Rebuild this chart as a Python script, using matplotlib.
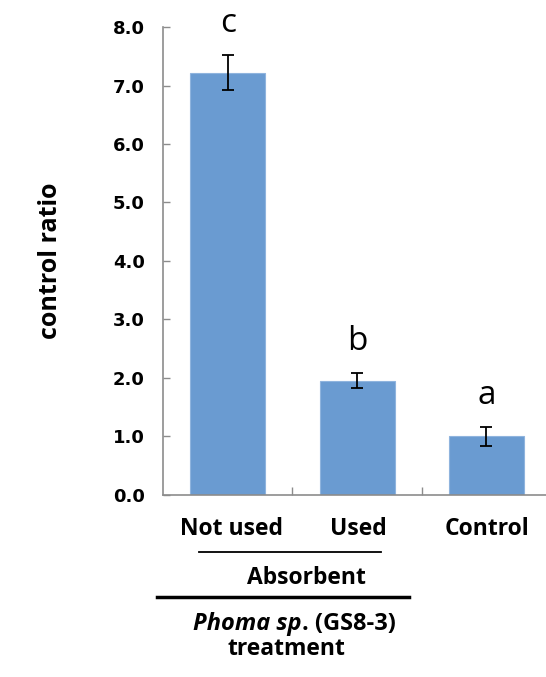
import numpy as np
import matplotlib.pyplot as plt

categories = ['Not used', 'Used', 'Control']
values = [7.22, 1.95, 1.0]
errors = [0.30, 0.13, 0.16]
letters = ['c', 'b', 'a']
yticks = [0.0, 1.0, 2.0, 3.0, 4.0, 5.0, 6.0, 7.0, 8.0]

bar_color = '#6a9bd1'
axis_color = '#8c8c8c'

fig = plt.figure(figsize=(5.46, 6.77), dpi=100)
ax = fig.add_axes([0.2985, 0.2689, 0.711, 0.6912])

x = np.arange(len(categories))
ax.bar(x, values, width=0.58, color=bar_color, edgecolor='#8fb4de', linewidth=0.8, zorder=2)
ax.errorbar(x, values, yerr=errors, fmt='none', ecolor='black', elinewidth=1.3,
            capsize=4.5, capthick=1.3, zorder=3)

for xi, v, e, l in zip(x, values, errors, letters):
    ax.text(xi, v + e + 0.4, l, ha='center', va='baseline', fontsize=24,
            family='Open Sans', clip_on=False)

ax.set_xlim(-0.5, 2.5)
ax.set_ylim(0, 8.0)
ax.set_yticks(yticks)
ax.set_yticklabels(['%.1f' % t for t in yticks], fontsize=13, fontweight='bold',
                   family='DejaVu Sans')
ax.set_xticks([0.5, 1.5])
ax.set_xticklabels([])
ax.tick_params(axis='y', direction='in', length=5, width=1, color=axis_color, pad=13)
ax.tick_params(axis='x', direction='in', length=6, width=1, color=axis_color)

for s in ['top', 'right']:
    ax.spines[s].set_visible(False)
for s in ['left', 'bottom']:
    ax.spines[s].set_color(axis_color)
    ax.spines[s].set_linewidth(1.2)

ax.set_ylabel('control ratio', fontsize=18, fontweight='bold', family='Open Sans',
              labelpad=36)

# category labels and grouping lines below the axis
H = 677.0
W = 546.0
cat_x = [232, 358, 487]
for cx, c in zip(cat_x, categories):
    fig.text(cx / W, 1 - 529 / H, c, ha='center', va='center', fontsize=16.5,
             fontweight='bold', family='Open Sans')

fig.add_artist(plt.Line2D([199 / W, 381 / W], [1 - 552 / H, 1 - 552 / H],
                          color='black', linewidth=1.3))
fig.text(306 / W, 1 - 578 / H, 'Absorbent', ha='center', va='center', fontsize=16.5,
         fontweight='bold', family='Open Sans')
fig.add_artist(plt.Line2D([157 / W, 409 / W], [1 - 597 / H, 1 - 597 / H],
                          color='black', linewidth=2.5))
fig.text(302 / W, 1 - 624 / H, 'Phoma sp', ha='right', va='center', fontsize=17,
         fontweight='bold', fontstyle='italic', family='Open Sans')
fig.text(302 / W, 1 - 624 / H, '. (GS8-3)', ha='left', va='center', fontsize=17,
         fontweight='bold', family='Open Sans')
fig.text(286 / W, 1 - 649 / H, 'treatment', ha='center', va='center', fontsize=16.5,
         fontweight='bold', family='Open Sans')

fig.savefig('out.png', dpi=100)
